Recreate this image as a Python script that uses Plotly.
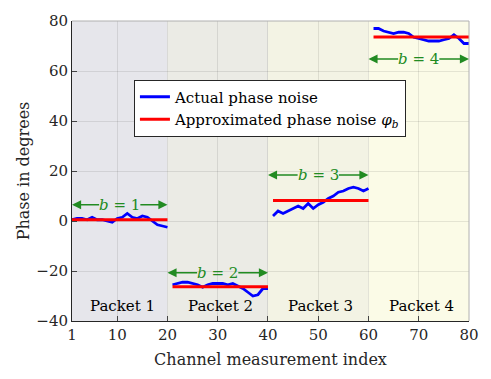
import plotly.graph_objects as go

# ---- data ----
packet_starts = [1, 21, 41, 61]
packet_ends = [20, 40, 60, 80]
packet_labels = ["Packet 1", "Packet 2", "Packet 3", "Packet 4"]
b_labels = ["<i>b</i> = 1", "<i>b</i> = 2", "<i>b</i> = 3", "<i>b</i> = 4"]
b_arrow_y = [6.5, -20.7, 18.4, 64.8]

phase_p1 = [0.5, 1, 1, 0.5, 1.5, 0.5, 0.5, 0, -0.5, 1, 1.5, 3, 1.5, 1, 2, 1.5, 0, -1.5, -2, -2.5]
phase_p2 = [-25.5, -25, -24.5, -24.5, -25, -25.5, -26.5, -25.5, -25, -25, -25, -25.5, -25, -26, -27, -28.5, -30, -29.5, -27, -27]
phase_p3 = [2, 4, 3, 4, 5, 6, 5, 7, 5, 6.5, 7.5, 9, 10, 11.5, 12, 13, 13.5, 13, 12, 13]
phase_p4 = [77, 77, 76, 75.5, 75, 75.5, 75.5, 75, 73.5, 73, 72.5, 72, 72, 72, 72.5, 73, 74.5, 73, 71, 71]
approx_phase = [0.5, -26.3, 8.2, 73.6]

bg_colors = ["#e6e6eb", "#ebebe5", "#f3f3e4", "#fbfbe7"]

x_ticks = [1, 10, 20, 30, 40, 50, 60, 70, 80]
y_ticks = [-40, -20, 0, 20, 40, 60, 80]

FONT = "DejaVu Serif"
GREEN = "#228b22"

series = [phase_p1, phase_p2, phase_p3, phase_p4]

bx, by, rx, ry = [], [], [], []
for s, e, vals, a in zip(packet_starts, packet_ends, series, approx_phase):
    bx += list(range(s, e + 1)) + [None]
    by += vals + [None]
    rx += [s, e, None]
    ry += [a, a, None]

fig = go.Figure()
fig.add_trace(go.Scatter(x=bx, y=by, mode="lines", line=dict(color="#0000ff", width=2.8),
                         name="Actual phase noise"))
fig.add_trace(go.Scatter(x=rx, y=ry, mode="lines", line=dict(color="#ff0000", width=3),
                         name="Approximated phase noise <i>φ<sub>b</sub></i>"))

shapes = []
bounds = [1, 20, 40, 60, 80]
for i in range(4):
    shapes.append(dict(type="rect", xref="x", yref="y", x0=bounds[i], x1=bounds[i + 1],
                       y0=-40, y1=80, fillcolor=bg_colors[i], line=dict(width=0), layer="below"))
shapes.append(dict(type="line", xref="paper", yref="paper", x0=0, x1=1, y0=1, y1=1,
                   line=dict(color="#b0b0b0", width=1)))
shapes.append(dict(type="line", xref="paper", yref="paper", x0=1, x1=1, y0=0, y1=1,
                   line=dict(color="#b0b0b0", width=1)))

annotations = []
for i in range(4):
    s, e = bounds[i], bounds[i + 1]
    mid = (s + e) / 2
    yv = b_arrow_y[i]
    annotations.append(dict(x=mid, y=yv, text=b_labels[i], showarrow=False,
                            font=dict(family=FONT, size=15, color=GREEN)))
    for tip, tail in ((s, mid - 3.8), (e, mid + 3.8)):
        annotations.append(dict(x=tip, y=yv, ax=tail, ay=yv, axref="x", ayref="y",
                                xref="x", yref="y", text="", showarrow=True,
                                arrowhead=2, arrowsize=1.4, arrowwidth=1.3,
                                arrowcolor=GREEN, standoff=0))
    annotations.append(dict(x=mid + 0.5, y=-34, text=packet_labels[i], showarrow=False,
                            font=dict(family=FONT, size=15, color="black")))

fig.update_layout(
    width=491, height=379,
    margin=dict(l=72, r=14, t=14, b=58),
    paper_bgcolor="white", plot_bgcolor="white",
    font=dict(family=FONT, size=15, color="#262626"),
    shapes=shapes, annotations=annotations,
    legend=dict(x=0.156, y=0.805, xanchor="left", yanchor="top",
                bgcolor="white", bordercolor="#262626", borderwidth=1,
                font=dict(family=FONT, size=15, color="black"),
                tracegroupgap=0, itemwidth=30),
    showlegend=True,
)
fig.update_xaxes(range=[1, 80], tickvals=x_ticks, ticks="inside", ticklen=5,
                 showgrid=True, gridcolor="rgba(0,0,0,0.09)", zeroline=False,
                 showline=True, linecolor="#262626", linewidth=1,
                 tickfont=dict(family=FONT, size=15, color="#262626"),
                 title=dict(text="Channel measurement index", standoff=10,
                            font=dict(family=FONT, size=16, color="#262626")))
fig.update_yaxes(range=[-40, 80], tickvals=y_ticks, ticks="inside", ticklen=5,
                 showgrid=True, gridcolor="rgba(0,0,0,0.09)", zeroline=False,
                 showline=True, linecolor="#262626", linewidth=1,
                 tickfont=dict(family=FONT, size=15, color="#262626"),
                 title=dict(text="Phase in degrees", standoff=2,
                            font=dict(family=FONT, size=16, color="#262626")))

fig.write_html("out.html")
